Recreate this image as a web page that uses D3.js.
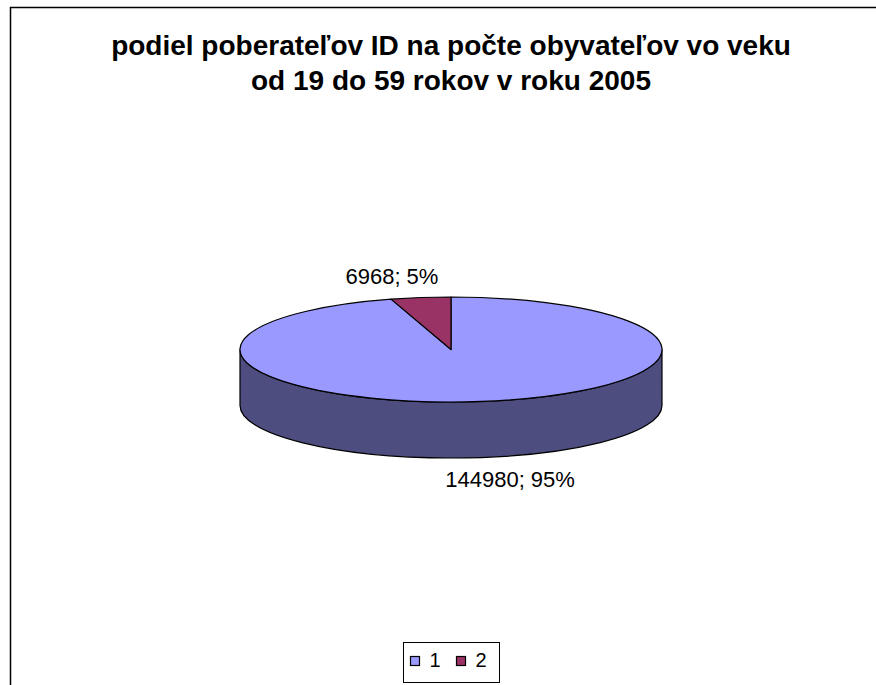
<!DOCTYPE html>
<html>
<head>
<meta charset="utf-8">
<script src="https://cdn.jsdelivr.net/npm/d3@7"></script>
<style>
  html, body { margin: 0; padding: 0; background: #fff; }
  svg { display: block; }
  text { font-family: "Liberation Sans", Arial, sans-serif; fill: #000; }
</style>
</head>
<body>
<svg id="chart" width="876" height="685"></svg>
<script>
// Recipients of ID (invalidity pension) vs. rest of population aged 19–59, 2005
const categories = ["1", "2"];
const values = [144980, 6968];
const topColors = ["#9999FF", "#993366"];
const sideColors = ["#4D4D80", "#4D1A33"];
const titleLines = [
  "podiel poberateľov ID na počte obyvateľov vo veku",
  "od 19 do 59 rokov v roku 2005"
];

const width = 876, height = 685;
const svg = d3.select("#chart");

// chart area frame (extends past the right and bottom edges)
svg.append("rect")
  .attr("x", 10.5).attr("y", 7.5)
  .attr("width", 900).attr("height", 720)
  .attr("fill", "#fff")
  .attr("stroke", "#000").attr("stroke-width", 1.5);

// title
const cx = 451;
svg.append("g").selectAll("text")
  .data(titleLines)
  .join("text")
  .attr("x", cx)
  .attr("y", (d, i) => 55 + i * 35)
  .attr("text-anchor", "middle")
  .attr("font-weight", "bold")
  .attr("font-size", 28)
  .text(d => d);

// 3D pie geometry
const cy = 349.5, rx = 211, ry = 52.5, depth = 56;
const total = d3.sum(values);
const pie = d3.pie().sort(null).value(d => d.value);
const arcs = pie(categories.map((c, i) => ({ cat: c, value: values[i], i })));

const pt = (a, dy = 0) => [cx + rx * Math.sin(a), cy - ry * Math.cos(a) + dy];

function ellArc(a0, a1, dy, sweep) {
  const [x1, y1] = pt(sweep ? a1 : a0, dy);
  const large = Math.abs(a1 - a0) > Math.PI ? 1 : 0;
  return `A${rx},${ry} 0 ${large} ${sweep} ${x1},${y1}`;
}

const g = svg.append("g")
  .attr("stroke", "#000").attr("stroke-width", 1.2)
  .attr("stroke-linejoin", "round");

// outer walls on the front half (angles between 90° and 270°)
const frontA = Math.PI / 2, frontB = 3 * Math.PI / 2;
arcs.forEach(d => {
  const a0 = Math.max(d.startAngle, frontA);
  const a1 = Math.min(d.endAngle, frontB);
  if (a1 <= a0) return;
  const [sx, sy] = pt(a0);
  const [bx, by] = pt(a1, depth);
  const p = `M${sx},${sy} ${ellArc(a0, a1, 0, 1)} L${bx},${by} ${ellArc(a0, a1, depth, 0)} Z`;
  g.append("path").attr("d", p).attr("fill", sideColors[d.data.i]);
});

// top faces
arcs.forEach(d => {
  const [sx, sy] = pt(d.startAngle);
  const p = `M${cx},${cy} L${sx},${sy} ${ellArc(d.startAngle, d.endAngle, 0, 1)} Z`;
  g.append("path").attr("d", p).attr("fill", topColors[d.data.i]);
});

// data labels: "value; percent"
const pct = d3.format(".0%");
const lrx = rx * 1.95, lry = ry + 22;
svg.append("g").selectAll("text")
  .data(arcs)
  .join("text")
  .attr("font-size", 22)
  .attr("text-anchor", "middle")
  .attr("x", d => {
    const m = (d.startAngle + d.endAngle) / 2;
    return cx + lrx * Math.sin(m);
  })
  .attr("y", d => {
    const m = (d.startAngle + d.endAngle) / 2;
    const c = -Math.cos(m);
    return cy + lry * c + (c > 0 ? depth : 0) + 8;
  })
  .text(d => `${d.data.value}; ${pct(d.data.value / total)}`);

// legend
const legend = svg.append("g");
legend.append("rect")
  .attr("x", 403.5).attr("y", 642.5)
  .attr("width", 96).attr("height", 40)
  .attr("fill", "#fff").attr("stroke", "#000").attr("stroke-width", 1);
const items = legend.selectAll("g.item")
  .data(categories)
  .join("g")
  .attr("class", "item")
  .attr("transform", (d, i) => `translate(${410.5 + i * 46},656.5)`);
items.append("rect")
  .attr("width", 9).attr("height", 9)
  .attr("fill", (d, i) => topColors[i])
  .attr("stroke", "#000").attr("stroke-width", 1.2);
items.append("text")
  .attr("x", 19).attr("y", 10.5)
  .attr("font-size", 20)
  .text(d => d);
</script>
</body>
</html>
